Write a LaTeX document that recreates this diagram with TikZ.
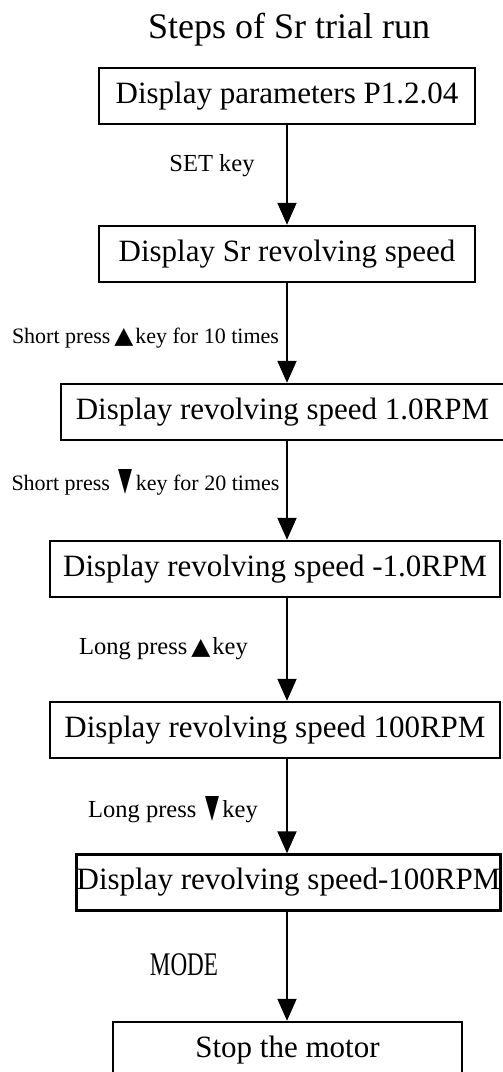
\documentclass[tikz,border=0pt]{standalone}
\usepackage{fontspec}
\setmainfont{Liberation Serif}
\newfontfamily\symfont{DejaVu Sans}
\usetikzlibrary{arrows.meta}
\newcommand{\upkey}{\hspace{4pt}\resizebox{19pt}{15pt}{\symfont ▲}\hspace{2pt}}
\newcommand{\dnkey}{\hspace{9pt}\resizebox{14pt}{21pt}{\symfont ▼}\hspace{3pt}}
\tikzset{
  stepbox/.style={draw, line width=2.5pt, minimum height=56pt, inner sep=0pt,
    font=\fontsize{31}{33}\selectfont},
  lbl/.style={inner sep=0pt, font=\fontsize{22}{24}\selectfont},
  biglbl/.style={inner sep=0pt, font=\fontsize{24.5}{26}\selectfont},
  arr/.style={line width=2pt, -{Triangle[width=19pt,length=22pt]}}
}
\begin{document}
\begin{tikzpicture}[x=1pt, y=-1pt, line join=miter]
	\useasboundingbox (0,0) rectangle (503,1072);
	\node[font=\fontsize{36}{38}\selectfont, inner sep=0pt] (title) at (289,30) {Steps of Sr trial run};
	% boxes
	\node[stepbox, minimum width=376pt] (p1) at (287,96) {Display parameters P1.2.04};
	\node[stepbox, minimum width=376pt] (sr) at (287,254) {Display Sr revolving speed};
	\node[stepbox, minimum width=443pt] (up) at (282.5,412) {Display revolving speed 1.0RPM};
	\node[stepbox, minimum width=450pt] (dn) at (275,569) {Display revolving speed -1.0RPM};
	\node[stepbox, minimum width=450pt] (lup) at (275,730) {Display revolving speed 100RPM};
	\node[stepbox, minimum width=421pt] (ldn) at (288.5,882.5) {Display revolving speed-100RPM};
	\node[stepbox, minimum width=349pt] (stop) at (287.5,1050) {Stop the motor};
	% key labels
	\node[biglbl] (kset) at (212,166) {SET key};
	\node[lbl] (kup) at (145.5,338) {Short press\upkey key for 10 times};
	\node[lbl] (kdn) at (145.5,482) {Short press\dnkey key for 20 times};
	\node[biglbl] (klup) at (163.5,649) {Long press\upkey key};
	\node[biglbl] (kldn) at (173,810) {Long press\dnkey key};
	\node[inner sep=0pt, font=\fontsize{33}{35}\selectfont] (kmode) at (184,965) {\scalebox{0.7}[1]{MODE}};
	% arrows
	\draw[arr] (p1.south) -- (sr.north);
	\draw[arr] (sr.south) -- (up.north -| sr.south);
	\draw[arr] (up.south -| sr.south) -- (dn.north -| sr.south);
	\draw[arr] (dn.south -| sr.south) -- (lup.north -| sr.south);
	\draw[arr] (lup.south -| sr.south) -- (ldn.north -| sr.south);
	\draw[arr] (ldn.south -| sr.south) -- (stop.north -| sr.south);
\end{tikzpicture}
\end{document}
